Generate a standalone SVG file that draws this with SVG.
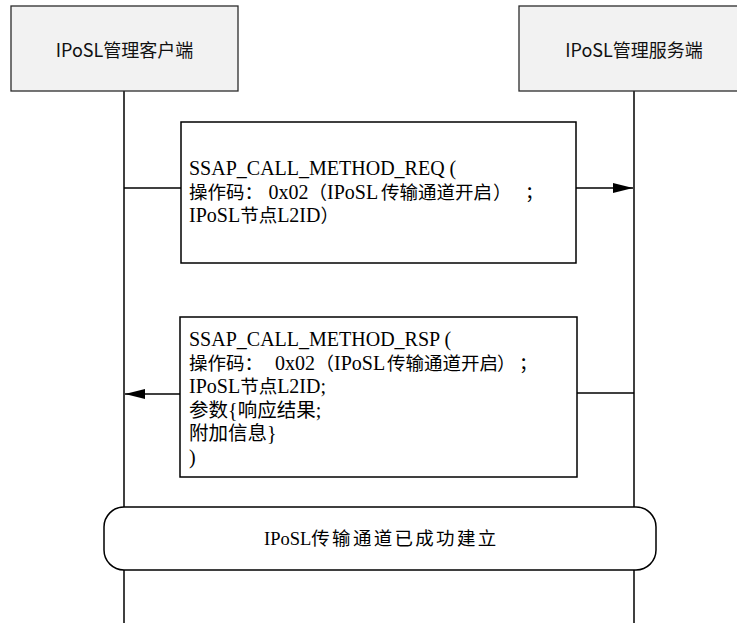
<svg xmlns="http://www.w3.org/2000/svg" width="737" height="623" viewBox="0 0 737 623">
<style>
.hdr{fill:#f2f2f2;stroke:#2b2b2b;stroke-width:1.3}
.hdrtxt{font-family:"Noto Sans CJK SC","Noto Sans",sans-serif;font-size:18px;fill:#111;text-anchor:middle}
.life{stroke:#000;stroke-width:1.5;fill:none}
.msg{fill:#fff;stroke:#000;stroke-width:1.5}
.mtxt{font-family:"Liberation Serif","Noto Sans CJK SC",serif;font-size:18.5px;fill:#000}
.l{font-size:20px}
.big{font-size:19.5px}
.conn{stroke:#000;stroke-width:1.5;fill:none}
</style>
<defs>
<marker id="ah" viewBox="0 0 20 10" refX="20" refY="5" markerWidth="20" markerHeight="10" markerUnits="userSpaceOnUse" orient="auto">
<path d="M0,0 L20,5 L0,10 Z" fill="#000"/>
</marker>
</defs>
<g id="lifelines">
<line class="life" x1="124" y1="91" x2="124" y2="623"/>
<line class="life" x1="634" y1="91" x2="634" y2="623"/>
</g>
<g id="client">
<rect class="hdr" x="11" y="6" width="227" height="85"/>
<text class="hdrtxt" x="124.5" y="57">IPoSL管理客户端</text>
</g>
<g id="server">
<rect class="hdr" x="519" y="6" width="230" height="85"/>
<text class="hdrtxt" x="634" y="57">IPoSL管理服务端</text>
</g>
<g id="connectors">
<line class="conn" x1="124" y1="188" x2="181" y2="188"/>
<line class="conn" x1="576" y1="188" x2="633" y2="188" marker-end="url(#ah)"/>
<line class="conn" x1="180" y1="394" x2="125" y2="394" marker-end="url(#ah)"/>
<line class="conn" x1="577" y1="393" x2="634" y2="393"/>
</g>
<g id="req">
<rect class="msg" x="181" y="122" width="395" height="141"/>
<text class="mtxt">
<tspan class="l" x="189" y="175">SSAP_CALL_METHOD_REQ (</tspan>
<tspan x="189" y="198.5">操作码：</tspan><tspan class="l" x="268.5" y="198.5">0x02</tspan><tspan x="308.5" y="198.5">（</tspan><tspan class="l" x="327" y="198.5">IPoSL</tspan><tspan x="381" y="198.5">传输通道开启</tspan><tspan x="493" y="198.5">）</tspan><tspan x="525" y="198.5">；</tspan>
<tspan class="l" x="189" y="222">IPoSL</tspan><tspan>节点</tspan><tspan class="l">L2ID</tspan><tspan>）</tspan>
</text>
</g>
<g id="rsp">
<rect class="msg" x="180" y="317" width="397" height="160"/>
<text class="mtxt">
<tspan class="l" x="189" y="346">SSAP_CALL_METHOD_RSP (</tspan>
<tspan x="189" y="369.5">操作码：</tspan><tspan class="l" x="275" y="369.5">0x02</tspan><tspan x="315.5" y="369.5">（</tspan><tspan class="l" x="334" y="369.5">IPoSL</tspan><tspan x="387" y="369.5">传输通道开启</tspan><tspan x="497" y="369.5">）</tspan><tspan x="519" y="369.5">；</tspan>
<tspan class="l" x="189" y="393">IPoSL</tspan><tspan>节点</tspan><tspan class="l">L2ID;</tspan>
<tspan class="big" x="189" y="416.5">参数</tspan><tspan class="l">{</tspan><tspan class="big">响应结果</tspan><tspan class="l">;</tspan>
<tspan class="big" x="189" y="440">附加信息</tspan><tspan class="l">}</tspan>
<tspan class="l" x="189" y="463.5">)</tspan>
</text>
</g>
<g id="established">
<rect x="104" y="507" width="552" height="63" rx="20" ry="20" fill="#fff" stroke="#000" stroke-width="1.5"/>
<text class="mtxt" x="264" y="545" font-size="18"><tspan>IPoSL</tspan><tspan letter-spacing="2.3">传输通道已成功建立</tspan></text>
</g>
</svg>
